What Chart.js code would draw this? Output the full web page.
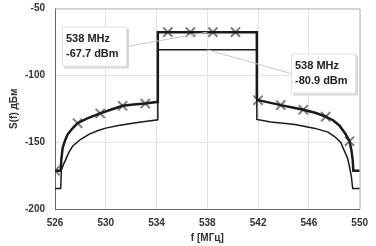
<!DOCTYPE html>
<html>
<head>
<meta charset="utf-8">
<script src="https://cdn.jsdelivr.net/npm/chart.js@4.4.0/dist/chart.umd.min.js"></script>
<style>
  html, body { margin: 0; padding: 0; background: #fff; }
  #wrap { width: 376px; height: 246px; }
</style>
</head>
<body>
<div id="wrap"><canvas id="spectrum"></canvas></div>
<script>
// Upper (thick) spectrum
const freqUpper = [526, 526.45, 526.5, 526.6, 526.8, 527.0, 527.4, 527.78, 528.5, 529.56, 530.5, 531.33, 532.2, 533.11, 534.1,
                   534.1, 534.89, 536.67, 538.44, 540.22, 541.9,
                   541.9, 542.0, 543.0, 543.78, 544.7, 545.56, 546.5, 547.33, 547.9, 548.4, 548.9, 549.2, 549.35, 549.45, 549.5, 550];
const levelUpper = [-171.3, -171.3, -163, -154.4, -148.5, -144.1, -139.4, -135.8, -132.4, -128.5, -125.4, -122.8, -121.8, -121.1, -119.8,
                    -67.7, -67.7, -67.7, -67.7, -67.7, -67.7,
                    -117.6, -118.6, -120.6, -122.3, -124.0, -125.7, -128.0, -130.9, -133.6, -137.5, -144.1, -149.3, -156, -163, -171.3, -171.3];

// Lower (thin) spectrum
const freqLower = [526, 526.45, 526.5, 526.65, 526.8, 527.1, 527.4, 528.0, 528.7, 529.4, 530.0, 531.0, 532.5, 534.1,
                   534.1, 538, 541.9,
                   541.9, 543.0, 544.0, 544.9, 546.5, 547.5, 548.0, 548.5, 548.8, 549.05, 549.2, 549.35, 549.45, 550];
const levelLower = [-184.6, -184.6, -171, -167, -164, -157.5, -152.9, -148, -144, -141.3, -139.5, -137.5, -135.3, -133.3,
                    -80.9, -80.9, -80.9,
                    -133, -134.9, -135.8, -136.8, -139.7, -142.5, -145.6, -150, -156.6, -162, -168.4, -176, -184.6, -184.6];

// Cross markers on the upper curve
const markerFreq = [526, 527.78, 529.56, 531.33, 533.11, 534.89, 536.67, 538.44, 540.22, 542.0, 543.78, 545.56, 547.33, 549.2];
const markerLevel = [-171.3, -135.8, -128.5, -122.8, -121.1, -67.7, -67.7, -67.7, -67.7, -118.6, -122.3, -125.7, -130.9, -149.3];

// Callouts
const calloutFreq = [538, 538];
const calloutLevel = [-67.7, -80.9];
const calloutText = [['538 MHz', '-67.7 dBm'], ['538 MHz', '-80.9 dBm']];

const toPoints = (xs, ys) => xs.map((x, i) => ({ x: x, y: ys[i] }));

const tickFont = { family: '"Liberation Sans", Arial, sans-serif', size: 10, weight: 'bold' };

// Frame on top/right plus boxes with leader lines
const calloutPlugin = {
    id: 'callouts',
    beforeDatasetsDraw(chart) {
        const { ctx, chartArea } = chart;
        ctx.save();
        ctx.strokeStyle = '#b8b8b8';
        ctx.lineWidth = 1;
        ctx.beginPath();
        ctx.moveTo(chartArea.left, chartArea.top + 0.5);
        ctx.lineTo(chartArea.right + 0.5, chartArea.top + 0.5);
        ctx.lineTo(chartArea.right + 0.5, chartArea.bottom);
        ctx.stroke();
        ctx.restore();
    },
    afterDatasetsDraw(chart) {
        const { ctx, chartArea, scales } = chart;
        const boxes = [
            { x: chartArea.left + 7, y: chartArea.top + 18, w: 65, h: 40, side: 'right' },
            { x: chartArea.left + 236, y: chartArea.top + 45, w: 65, h: 40, side: 'left' }
        ];
        ctx.save();
        boxes.forEach((b, i) => {
            const ax = scales.x.getPixelForValue(calloutFreq[i]);
            const ay = scales.y.getPixelForValue(calloutLevel[i]);
            const bx = b.side === 'right' ? b.x + b.w : b.x;
            const by = b.y + b.h / 2;
            ctx.strokeStyle = '#c8c8c8';
            ctx.lineWidth = 1;
            ctx.beginPath();
            ctx.moveTo(ax, ay);
            ctx.lineTo(bx, by);
            ctx.stroke();
            // shadow
            ctx.fillStyle = '#d6d6d6';
            ctx.fillRect(b.x + 2, b.y + 2, b.w, b.h);
            ctx.fillStyle = '#ffffff';
            ctx.fillRect(b.x, b.y, b.w, b.h);
            ctx.strokeStyle = '#e2e2e2';
            ctx.strokeRect(b.x + 0.5, b.y + 0.5, b.w - 1, b.h - 1);
            ctx.fillStyle = '#222';
            ctx.font = 'bold 11px "Liberation Sans", Arial, sans-serif';
            ctx.textBaseline = 'middle';
            ctx.textAlign = 'left';
            ctx.fillText(calloutText[i][0], b.x + 4, b.y + 12);
            ctx.fillText(calloutText[i][1], b.x + 4, b.y + 27);
        });
        ctx.restore();
    }
};

new Chart(document.getElementById('spectrum').getContext('2d'), {
    type: 'line',
    data: {
        datasets: [
            {
                label: 'lower',
                data: toPoints(freqLower, levelLower),
                borderColor: '#1a1a1a',
                borderWidth: 1.5,
                pointRadius: 0,
                tension: 0,
                fill: false
            },
            {
                label: 'upper',
                data: toPoints(freqUpper, levelUpper),
                borderColor: '#1a1a1a',
                borderWidth: 2.5,
                pointRadius: 0,
                tension: 0,
                fill: false
            },
            {
                label: 'markers',
                data: toPoints(markerFreq, markerLevel),
                showLine: false,
                pointStyle: 'crossRot',
                pointRadius: 6.5,
                pointBorderWidth: 2,
                pointBorderColor: '#808080',
                pointBackgroundColor: '#808080'
            }
        ]
    },
    options: {
        responsive: true,
        maintainAspectRatio: false,
        animation: false,
        layout: { padding: { left: 8, right: 11, top: 0, bottom: 0 } },
        plugins: {
            legend: { display: false },
            tooltip: { enabled: false }
        },
        scales: {
            x: {
                type: 'linear',
                min: 526,
                max: 550,
                ticks: { stepSize: 4, color: '#333', font: tickFont, padding: 8 },
                grid: { color: '#e4e4e4', drawTicks: false },
                border: { color: '#666', width: 1 },
                title: { display: true, text: 'f [МГц]', color: '#333', font: tickFont, padding: { top: 0, bottom: 2 } },
                afterFit(scale) { scale.height = 37; }
            },
            y: {
                min: -200,
                max: -50,
                ticks: { stepSize: 50, color: '#333', font: tickFont, padding: 10 },
                grid: { color: '#e4e4e4', drawTicks: false },
                border: { color: '#666', width: 1 },
                title: { display: true, text: 'S(f) дБм', color: '#333', font: tickFont, padding: 0 },
                afterFit(scale) {
                    scale.width = 47;
                    scale.paddingTop = 5;
                    scale.paddingBottom = 5;
                }
            }
        }
    },
    plugins: [calloutPlugin]
});
</script>
</body>
</html>
